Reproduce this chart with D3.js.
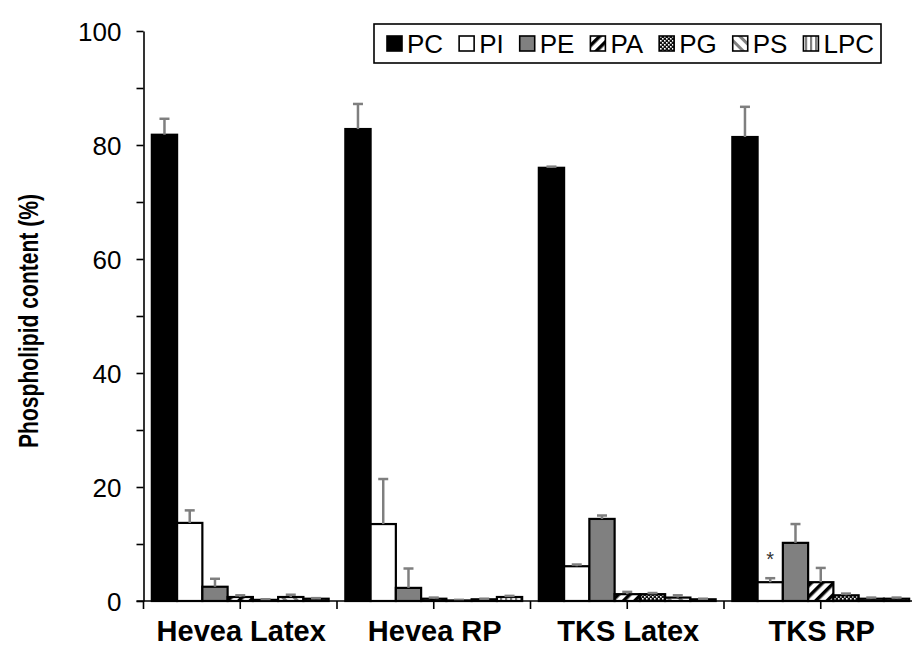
<!DOCTYPE html>
<html><head><meta charset="utf-8">
<script src="https://cdn.jsdelivr.net/npm/d3@7"></script>
<style>body{margin:0;background:#fff}svg{display:block}text{font-family:Arial,"Liberation Sans",sans-serif}</style>
</head><body><svg id="c" width="912" height="648"></svg>
<script>
const categories = ["Hevea Latex","Hevea RP","TKS Latex","TKS RP"];
const seriesNames = ["PC","PI","PE","PA","PG","PS","LPC"];
const PC  = [81.8, 82.8, 76.0, 81.4];
const PCerr = [2.8, 4.4, 0.2, 5.3];
const PI  = [13.7, 13.5, 6.1, 3.3];
const PIerr = [2.2, 7.9, 0.3, 0.7];
const PE  = [2.5, 2.3, 14.4, 10.2];
const PEerr = [1.4, 3.4, 0.6, 3.3];
const PA  = [0.7, 0.4, 1.2, 3.3];
const PAerr = [0.3, 0.2, 0.4, 2.5];
const PG  = [0.2, 0.1, 1.2, 1.0];
const PGerr = [0.1, 0.1, 0.2, 0.3];
const PS  = [0.7, 0.3, 0.6, 0.4];
const PSerr = [0.4, 0.1, 0.4, 0.2];
const LPC = [0.4, 0.7, 0.3, 0.4];
const LPCerr = [0.1, 0.2, 0.1, 0.2];
const yTicks = [0,20,40,60,80,100];
const annotations = [{cat:"TKS RP", series:"PI", text:"*"}];

const values = {PC,PI,PE,PA,PG,PS,LPC};
const errors = {PC:PCerr,PI:PIerr,PE:PEerr,PA:PAerr,PG:PGerr,PS:PSerr,LPC:LPCerr};
const fills = {PC:"#000",PI:"#fff",PE:"#808080",PA:"url(#pA)",PG:"url(#pG)",PS:"url(#pS)",LPC:"url(#pL)"};

const svg = d3.select("#c");
const defs = svg.append("defs");
let p = defs.append("pattern").attr("id","pA").attr("patternUnits","userSpaceOnUse")
  .attr("width",8).attr("height",8).attr("patternTransform","rotate(45)");
p.append("rect").attr("width",8).attr("height",8).attr("fill","#fff");
p.append("rect").attr("width",3.5).attr("height",8).attr("fill","#000");
p = defs.append("pattern").attr("id","pS").attr("patternUnits","userSpaceOnUse")
  .attr("width",8).attr("height",8).attr("patternTransform","rotate(-45)");
p.append("rect").attr("width",8).attr("height",8).attr("fill","#fff");
p.append("rect").attr("width",3).attr("height",8).attr("fill","#808080");
p = defs.append("pattern").attr("id","pG").attr("patternUnits","userSpaceOnUse")
  .attr("width",4).attr("height",4);
p.append("rect").attr("width",4).attr("height",4).attr("fill","#111");
p.append("rect").attr("x",0).attr("y",0).attr("width",1.6).attr("height",1.6).attr("fill","#fff");
p.append("rect").attr("x",2).attr("y",2).attr("width",1.6).attr("height",1.6).attr("fill","#fff");
p = defs.append("pattern").attr("id","pL").attr("patternUnits","userSpaceOnUse")
  .attr("width",5).attr("height",5);
p.append("rect").attr("width",5).attr("height",5).attr("fill","#fff");
p.append("rect").attr("width",2.2).attr("height",5).attr("fill","#808080");

const x0 = d3.scaleBand().domain(categories).range([143.5, 917.5]).padding(0);
const x1 = d3.scaleBand().domain(seriesNames).range([0, x0.bandwidth()]).paddingInner(0).paddingOuter(0.33);
const y = d3.scaleLinear().domain([0,100]).range([601, 31]);

const data = [];
categories.forEach((c,i)=>seriesNames.forEach(s=>data.push({c,s,v:values[s][i],e:errors[s][i]})));
svg.append("g").selectAll("rect.bar").data(data).join("rect").attr("class","bar")
  .attr("x",d=>x0(d.c)+x1(d.s)).attr("width",x1.bandwidth())
  .attr("y",d=>y(d.v)).attr("height",d=>y(0)-y(d.v))
  .attr("fill",d=>fills[d.s]).attr("stroke","#000").attr("stroke-width",2.2);

const eb = svg.append("g").attr("stroke","#7f7f7f").attr("stroke-width",2.5);
data.forEach(d=>{
  const cx = x0(d.c)+x1(d.s)+x1.bandwidth()/2;
  eb.append("line").attr("x1",cx).attr("x2",cx).attr("y1",y(d.v)).attr("y2",y(d.v+d.e));
  eb.append("line").attr("x1",cx-5).attr("x2",cx+5).attr("y1",y(d.v+d.e)).attr("y2",y(d.v+d.e));
});

annotations.forEach(a=>{
  const i = categories.indexOf(a.cat);
  const v = values[a.series][i]+errors[a.series][i];
  svg.append("text").attr("x",x0(a.cat)+x1(a.series)+x1.bandwidth()/2).attr("y",y(v)-12)
    .attr("text-anchor","middle").attr("font-size",20).attr("fill","#333").text(a.text);
});

const yAxis = d3.axisLeft(y).tickValues(d3.range(0,101,10)).tickSize(7).tickSizeOuter(0)
  .tickFormat(d=>yTicks.includes(d)?d:"");
const ya = svg.append("g").attr("transform","translate(143.5,0)").call(yAxis);
ya.select(".domain").attr("stroke","#000").attr("stroke-width",1.6);
ya.selectAll(".tick line").attr("stroke","#000").attr("stroke-width",1.6);
ya.selectAll(".tick text").attr("font-size",26).attr("fill","#000").attr("x",-22).attr("dy","0.35em");

svg.append("line").attr("x1",136.5).attr("x2",912).attr("y1",601).attr("y2",601).attr("stroke","#000").attr("stroke-width",1.6);
const tickXs = [];
categories.forEach(c=>{tickXs.push(x0(c)); tickXs.push(x0(c)+x0.bandwidth()/2);});
svg.append("g").selectAll("line").data(tickXs).join("line")
  .attr("x1",d=>d).attr("x2",d=>d).attr("y1",601).attr("y2",609).attr("stroke","#000").attr("stroke-width",1.6);
svg.append("g").selectAll("text").data(categories).join("text")
  .attr("x",d=>x0(d)+x0.bandwidth()/2+1).attr("y",641).attr("text-anchor","middle")
  .attr("font-size",29).attr("font-weight","bold").attr("fill","#000").text(d=>d);

svg.append("text").attr("transform","translate(38,321) rotate(-90)").attr("text-anchor","middle")
  .attr("font-size",28).attr("font-weight","bold").attr("fill","#000")
  .attr("textLength",254).attr("lengthAdjust","spacingAndGlyphs").text("Phospholipid content (%)");

const lg = svg.append("g");
const box = lg.append("rect").attr("x",374).attr("y",24).attr("height",39).attr("fill","#fff").attr("stroke","#000").attr("stroke-width",1.6);
let lx = 387;
seriesNames.forEach(s=>{
  lg.append("rect").attr("x",lx).attr("y",36).attr("width",15).attr("height",15)
    .attr("fill",fills[s]).attr("stroke","#000").attr("stroke-width",1.6);
  const t = lg.append("text").attr("x",lx+20).attr("y",53).attr("font-size",26).attr("fill","#000").text(s);
  lx += 20 + t.node().getComputedTextLength() + 16;
});
box.attr("width", lx - 16 + 7 - 374);
</script></body></html>
